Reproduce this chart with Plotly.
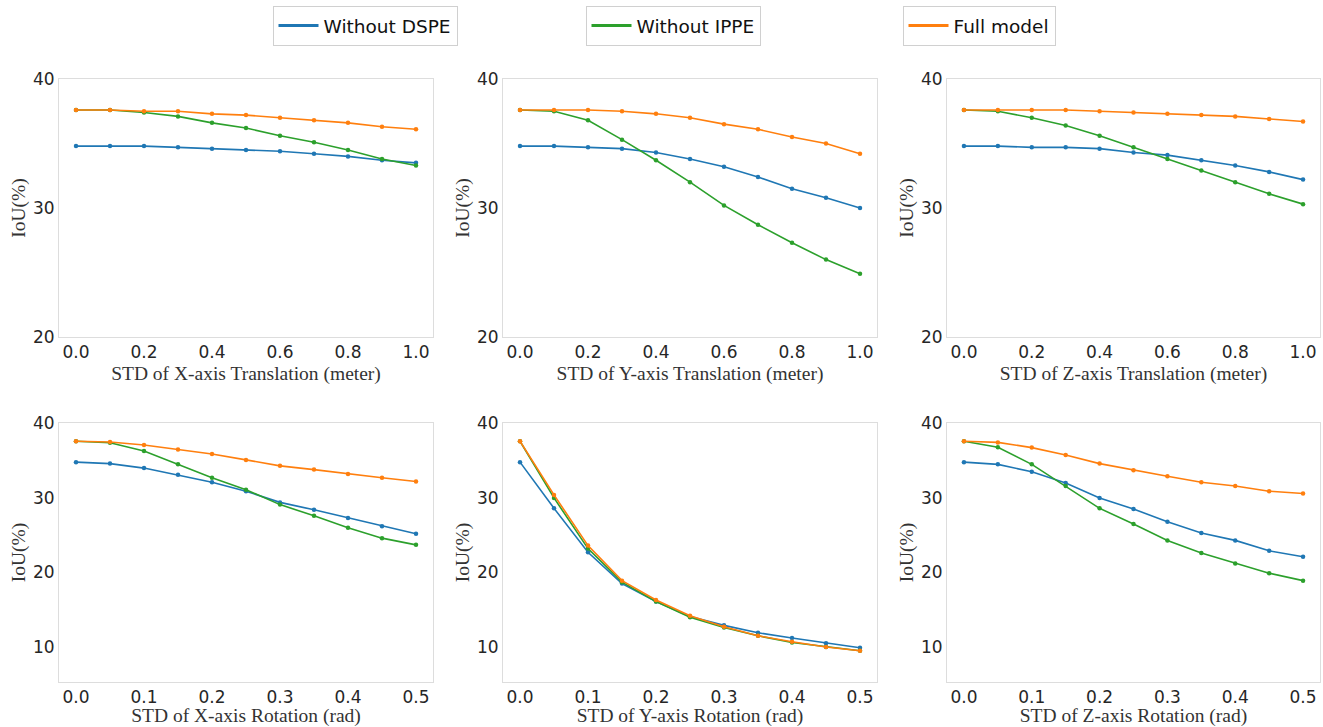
import plotly.graph_objects as go
from plotly.subplots import make_subplots

series_names = ["Without DSPE", "Without IPPE", "Full model"]
colors = ["#1f77b4", "#2ca02c", "#ff7f0e"]

trans_x = [0.0, 0.1, 0.2, 0.3, 0.4, 0.5, 0.6, 0.7, 0.8, 0.9, 1.0]
rot_x = [0.0, 0.05, 0.1, 0.15, 0.2, 0.25, 0.3, 0.35, 0.4, 0.45, 0.5]

# X-axis translation
xt_dspe = [34.8, 34.8, 34.8, 34.7, 34.6, 34.5, 34.4, 34.2, 34.0, 33.7, 33.5]
xt_ippe = [37.6, 37.6, 37.4, 37.1, 36.6, 36.2, 35.6, 35.1, 34.5, 33.8, 33.3]
xt_full = [37.6, 37.6, 37.5, 37.5, 37.3, 37.2, 37.0, 36.8, 36.6, 36.3, 36.1]
# Y-axis translation
yt_dspe = [34.8, 34.8, 34.7, 34.6, 34.3, 33.8, 33.2, 32.4, 31.5, 30.8, 30.0]
yt_ippe = [37.6, 37.5, 36.8, 35.3, 33.7, 32.0, 30.2, 28.7, 27.3, 26.0, 24.9]
yt_full = [37.6, 37.6, 37.6, 37.5, 37.3, 37.0, 36.5, 36.1, 35.5, 35.0, 34.2]
# Z-axis translation
zt_dspe = [34.8, 34.8, 34.7, 34.7, 34.6, 34.3, 34.1, 33.7, 33.3, 32.8, 32.2]
zt_ippe = [37.6, 37.5, 37.0, 36.4, 35.6, 34.7, 33.8, 32.9, 32.0, 31.1, 30.3]
zt_full = [37.6, 37.6, 37.6, 37.6, 37.5, 37.4, 37.3, 37.2, 37.1, 36.9, 36.7]
# X-axis rotation
xr_dspe = [34.8, 34.6, 34.0, 33.1, 32.1, 30.9, 29.4, 28.4, 27.3, 26.2, 25.2]
xr_ippe = [37.6, 37.4, 36.3, 34.5, 32.7, 31.1, 29.1, 27.6, 26.0, 24.6, 23.7]
xr_full = [37.6, 37.5, 37.1, 36.5, 35.9, 35.1, 34.3, 33.8, 33.2, 32.7, 32.2]
# Y-axis rotation
yr_dspe = [34.8, 28.6, 22.7, 18.5, 16.1, 14.1, 12.9, 11.9, 11.2, 10.5, 9.9]
yr_ippe = [37.6, 30.0, 23.2, 18.7, 16.1, 14.0, 12.6, 11.5, 10.6, 10.0, 9.5]
yr_full = [37.6, 30.4, 23.6, 18.9, 16.3, 14.2, 12.7, 11.5, 10.7, 10.0, 9.5]
# Z-axis rotation
zr_dspe = [34.8, 34.5, 33.5, 32.0, 30.0, 28.5, 26.8, 25.3, 24.3, 22.9, 22.1]
zr_ippe = [37.6, 36.8, 34.5, 31.6, 28.6, 26.5, 24.3, 22.6, 21.2, 19.9, 18.9]
zr_full = [37.6, 37.45, 36.75, 35.75, 34.6, 33.7, 32.9, 32.1, 31.6, 30.9, 30.6]

x_titles = [
    "STD of X-axis Translation (meter)",
    "STD of Y-axis Translation (meter)",
    "STD of Z-axis Translation (meter)",
    "STD of X-axis Rotation (rad)",
    "STD of Y-axis Rotation (rad)",
    "STD of Z-axis Rotation (rad)",
]
panels = [
    (trans_x, [xt_dspe, xt_ippe, xt_full]),
    (trans_x, [yt_dspe, yt_ippe, yt_full]),
    (trans_x, [zt_dspe, zt_ippe, zt_full]),
    (rot_x, [xr_dspe, xr_ippe, xr_full]),
    (rot_x, [yr_dspe, yr_ippe, yr_full]),
    (rot_x, [zr_dspe, zr_ippe, zr_full]),
]
legend_ids = ["legend", "legend2", "legend3"]

fig = make_subplots(rows=2, cols=3)

for i, (xs, ys_list) in enumerate(panels):
    r = i // 3 + 1
    c = i % 3 + 1
    for k, ys in enumerate(ys_list):
        fig.add_trace(
            go.Scatter(
                x=xs, y=ys, mode="lines+markers",
                name=series_names[k],
                line=dict(color=colors[k], width=1.6),
                marker=dict(color=colors[k], size=4.5),
                showlegend=False,
            ),
            row=r, col=c,
        )

# legend-only entries (line samples without markers)
for k in range(3):
    fig.add_trace(
        go.Scatter(
            x=[None], y=[None], mode="lines", name=series_names[k],
            line=dict(color=colors[k], width=3),
            showlegend=True, legend=legend_ids[k],
        ),
        row=1, col=1,
    )

W, H = 1323, 727
ml, mr, mt, mb = 59, 3, 79, 45
pw, ph = W - ml - mr, H - mt - mb

def xd(a, b):
    return [(a - ml) / pw, (b - ml) / pw]

def yd(top, bottom):
    return [1 - (bottom - mt) / ph, 1 - (top - mt) / ph]

col_dom = [xd(59, 433), xd(503, 877), xd(947, 1320)]
row_dom = [yd(79, 337), yd(423, 682)]
col_dom = [[max(0, a), min(1, b)] for a, b in col_dom]
row_dom = [[max(0, a), min(1, b)] for a, b in row_dom]

axis_font = dict(family="Liberation Serif, Times New Roman, serif", size=19.5, color="#333333")
tick_font = dict(family="DejaVu Sans, sans-serif", size=17, color="#262626")
frame = "#dddddd"

for i in range(6):
    r = i // 3
    c = i % 3
    idx = "" if i == 0 else str(i + 1)
    xa = "xaxis" + idx
    ya = "yaxis" + idx
    if r == 0:
        xr = [-0.05, 1.05]
        xt = [0.0, 0.2, 0.4, 0.6, 0.8, 1.0]
        xtt = ["0.0", "0.2", "0.4", "0.6", "0.8", "1.0"]
        yr = [20, 40]
        yt = [20, 30, 40]
    else:
        xr = [-0.025, 0.525]
        xt = [0.0, 0.1, 0.2, 0.3, 0.4, 0.5]
        xtt = ["0.0", "0.1", "0.2", "0.3", "0.4", "0.5"]
        yr = [5.3, 40.05]
        yt = [10, 20, 30, 40]
    fig.layout[xa].update(
        domain=col_dom[c], range=xr, tickvals=xt, ticktext=xtt,
        showgrid=False, zeroline=False, showline=True, mirror=True,
        linecolor=frame, linewidth=1, ticks="", tickfont=tick_font,
        title=dict(text=x_titles[i], font=axis_font, standoff=4),
        automargin=False,
    )
    fig.layout[ya].update(
        domain=row_dom[r], range=yr, tickvals=yt,
        showgrid=False, zeroline=False, showline=True, mirror=True,
        linecolor=frame, linewidth=1, ticks="", tickfont=tick_font,
        title=dict(text="IoU(%)", font=axis_font, standoff=2),
        automargin=False,
    )

leg_common = dict(
    orientation="h", yanchor="middle", xanchor="center",
    bordercolor="#d0d0d0", borderwidth=1, bgcolor="white",
    itemwidth=40,
    font=dict(family="DejaVu Sans, sans-serif", size=18.5, color="#111111"),
)
leg_y = 1 + (mt - 26) / ph

def lx(px):
    return (px - ml) / pw

fig.update_layout(
    width=W, height=H,
    margin=dict(l=ml, r=mr, t=mt, b=mb, autoexpand=False),
    plot_bgcolor="white", paper_bgcolor="white",
    legend=dict(x=lx(365), y=leg_y, **leg_common),
    legend2=dict(x=lx(673), y=leg_y, **leg_common),
    legend3=dict(x=lx(979), y=leg_y, **leg_common),
)

fig.write_html(
    "out.html",
    config={"displayModeBar": False},
    post_script="document.body.style.margin='0';document.body.style.overflow='hidden';",
)
